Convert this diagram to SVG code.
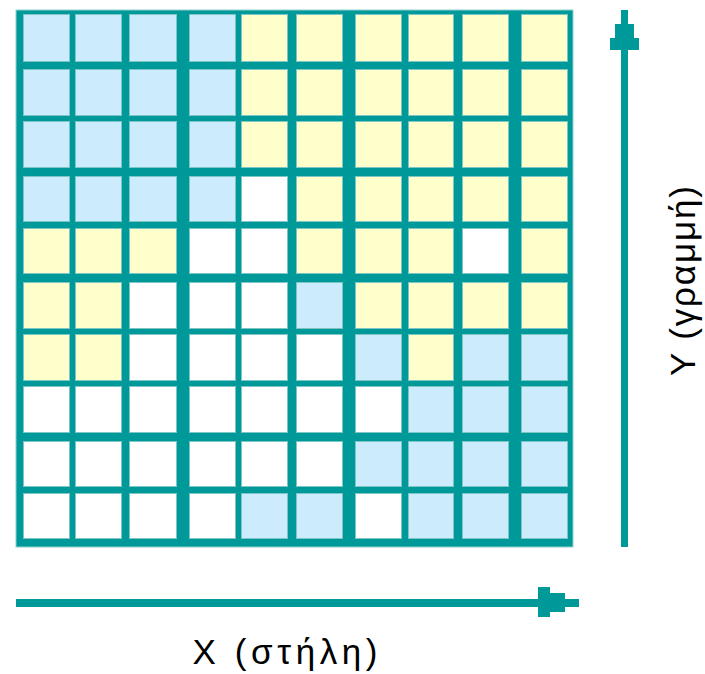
<svg xmlns="http://www.w3.org/2000/svg" width="705" height="674" viewBox="0 0 705 674">
<style>
.grid{fill:#009999;stroke:#8fd0d0;stroke-width:1}
.c{stroke:#7cc6c6;stroke-width:1}
.b{fill:#CCEBFC}
.y{fill:#FFFFCC}
.w{fill:#FFFFFF}
.ax{fill:#009999}
.lbl{font-family:"Liberation Sans","DejaVu Sans",sans-serif;font-size:35px;fill:#000}
</style>
<g id="grid">
<rect class="grid" x="16" y="10" width="557" height="537"/>
</g>
<g id="cells">
<!-- row 1 y=14 -->
<rect class="c b" x="23.5" y="14.5" width="46" height="47"/><rect class="c b" x="75.5" y="14.5" width="46" height="47"/><rect class="c b" x="129.5" y="14.5" width="47" height="47"/><rect class="c b" x="189.5" y="14.5" width="46" height="47"/><rect class="c y" x="241.5" y="14.5" width="46" height="47"/><rect class="c y" x="296.5" y="14.5" width="46" height="47"/><rect class="c y" x="355.5" y="14.5" width="46" height="47"/><rect class="c y" x="408.5" y="14.5" width="45" height="47"/><rect class="c y" x="462.5" y="14.5" width="46" height="47"/><rect class="c y" x="521.5" y="14.5" width="46" height="47"/>
<!-- row 2 y=69 -->
<rect class="c b" x="23.5" y="69.5" width="46" height="46"/><rect class="c b" x="75.5" y="69.5" width="46" height="46"/><rect class="c b" x="129.5" y="69.5" width="47" height="46"/><rect class="c b" x="189.5" y="69.5" width="46" height="46"/><rect class="c y" x="241.5" y="69.5" width="46" height="46"/><rect class="c y" x="296.5" y="69.5" width="46" height="46"/><rect class="c y" x="355.5" y="69.5" width="46" height="46"/><rect class="c y" x="408.5" y="69.5" width="45" height="46"/><rect class="c y" x="462.5" y="69.5" width="46" height="46"/><rect class="c y" x="521.5" y="69.5" width="46" height="46"/>
<!-- row 3 y=121 -->
<rect class="c b" x="23.5" y="121.5" width="46" height="46"/><rect class="c b" x="75.5" y="121.5" width="46" height="46"/><rect class="c b" x="129.5" y="121.5" width="47" height="46"/><rect class="c b" x="189.5" y="121.5" width="46" height="46"/><rect class="c y" x="241.5" y="121.5" width="46" height="46"/><rect class="c y" x="296.5" y="121.5" width="46" height="46"/><rect class="c y" x="355.5" y="121.5" width="46" height="46"/><rect class="c y" x="408.5" y="121.5" width="45" height="46"/><rect class="c y" x="462.5" y="121.5" width="46" height="46"/><rect class="c y" x="521.5" y="121.5" width="46" height="46"/>
<!-- row 4 y=176 -->
<rect class="c b" x="23.5" y="176.5" width="46" height="45"/><rect class="c b" x="75.5" y="176.5" width="46" height="45"/><rect class="c b" x="129.5" y="176.5" width="47" height="45"/><rect class="c b" x="189.5" y="176.5" width="46" height="45"/><rect class="c w" x="241.5" y="176.5" width="46" height="45"/><rect class="c y" x="296.5" y="176.5" width="46" height="45"/><rect class="c y" x="355.5" y="176.5" width="46" height="45"/><rect class="c y" x="408.5" y="176.5" width="45" height="45"/><rect class="c y" x="462.5" y="176.5" width="46" height="45"/><rect class="c y" x="521.5" y="176.5" width="46" height="45"/>
<!-- row 5 y=228 -->
<rect class="c y" x="23.5" y="228.5" width="46" height="45"/><rect class="c y" x="75.5" y="228.5" width="46" height="45"/><rect class="c y" x="129.5" y="228.5" width="47" height="45"/><rect class="c w" x="189.5" y="228.5" width="46" height="45"/><rect class="c w" x="241.5" y="228.5" width="46" height="45"/><rect class="c y" x="296.5" y="228.5" width="46" height="45"/><rect class="c y" x="355.5" y="228.5" width="46" height="45"/><rect class="c y" x="408.5" y="228.5" width="45" height="45"/><rect class="c w" x="462.5" y="228.5" width="46" height="45"/><rect class="c y" x="521.5" y="228.5" width="46" height="45"/>
<!-- row 6 y=282 -->
<rect class="c y" x="23.5" y="282.5" width="46" height="46"/><rect class="c y" x="75.5" y="282.5" width="46" height="46"/><rect class="c w" x="129.5" y="282.5" width="47" height="46"/><rect class="c w" x="189.5" y="282.5" width="46" height="46"/><rect class="c w" x="241.5" y="282.5" width="46" height="46"/><rect class="c b" x="296.5" y="282.5" width="46" height="46"/><rect class="c y" x="355.5" y="282.5" width="46" height="46"/><rect class="c y" x="408.5" y="282.5" width="45" height="46"/><rect class="c y" x="462.5" y="282.5" width="46" height="46"/><rect class="c y" x="521.5" y="282.5" width="46" height="46"/>
<!-- row 7 y=334 -->
<rect class="c y" x="23.5" y="334.5" width="46" height="46"/><rect class="c y" x="75.5" y="334.5" width="46" height="46"/><rect class="c w" x="129.5" y="334.5" width="47" height="46"/><rect class="c w" x="189.5" y="334.5" width="46" height="46"/><rect class="c w" x="241.5" y="334.5" width="46" height="46"/><rect class="c w" x="296.5" y="334.5" width="46" height="46"/><rect class="c b" x="355.5" y="334.5" width="46" height="46"/><rect class="c y" x="408.5" y="334.5" width="45" height="46"/><rect class="c b" x="462.5" y="334.5" width="46" height="46"/><rect class="c b" x="521.5" y="334.5" width="46" height="46"/>
<!-- row 8 y=386 -->
<rect class="c w" x="23.5" y="386.5" width="46" height="46"/><rect class="c w" x="75.5" y="386.5" width="46" height="46"/><rect class="c w" x="129.5" y="386.5" width="47" height="46"/><rect class="c w" x="189.5" y="386.5" width="46" height="46"/><rect class="c w" x="241.5" y="386.5" width="46" height="46"/><rect class="c w" x="296.5" y="386.5" width="46" height="46"/><rect class="c w" x="355.5" y="386.5" width="46" height="46"/><rect class="c b" x="408.5" y="386.5" width="45" height="46"/><rect class="c b" x="462.5" y="386.5" width="46" height="46"/><rect class="c b" x="521.5" y="386.5" width="46" height="46"/>
<!-- row 9 y=441 -->
<rect class="c w" x="23.5" y="441.5" width="46" height="45"/><rect class="c w" x="75.5" y="441.5" width="46" height="45"/><rect class="c w" x="129.5" y="441.5" width="47" height="45"/><rect class="c w" x="189.5" y="441.5" width="46" height="45"/><rect class="c w" x="241.5" y="441.5" width="46" height="45"/><rect class="c w" x="296.5" y="441.5" width="46" height="45"/><rect class="c b" x="355.5" y="441.5" width="46" height="45"/><rect class="c b" x="408.5" y="441.5" width="45" height="45"/><rect class="c b" x="462.5" y="441.5" width="46" height="45"/><rect class="c b" x="521.5" y="441.5" width="46" height="45"/>
<!-- row 10 y=493 -->
<rect class="c w" x="23.5" y="493.5" width="46" height="45"/><rect class="c w" x="75.5" y="493.5" width="46" height="45"/><rect class="c w" x="129.5" y="493.5" width="47" height="45"/><rect class="c w" x="189.5" y="493.5" width="46" height="45"/><rect class="c b" x="241.5" y="493.5" width="46" height="45"/><rect class="c b" x="296.5" y="493.5" width="46" height="45"/><rect class="c w" x="355.5" y="493.5" width="46" height="45"/><rect class="c b" x="408.5" y="493.5" width="45" height="45"/><rect class="c b" x="462.5" y="493.5" width="46" height="45"/><rect class="c b" x="521.5" y="493.5" width="46" height="45"/>
</g>
<g id="connectors">
<g id="x-axis">
<rect class="ax" x="16" y="599" width="524" height="8"/>
<polygon class="ax" points="538,587 550,587 550,593 565,593 565,599 579,599 579,607 565,607 565,612 550,612 550,617 538,617"/>
</g>
<g id="y-axis">
<rect class="ax" x="621" y="48" width="7" height="499"/>
<polygon class="ax" points="621,10 628,10 628,24 634,24 634,38 639,38 639,50 610,50 610,38 615,38 615,24 621,24"/>
</g>
</g>
<g id="labels">
<text class="lbl" x="285" y="664" text-anchor="middle" textLength="185" lengthAdjust="spacing">X (στήλη)</text>
<text class="lbl" transform="translate(695,281) rotate(-90)" text-anchor="middle" textLength="190" lengthAdjust="spacing">Y (γραμμή)</text>
</g>
</svg>
